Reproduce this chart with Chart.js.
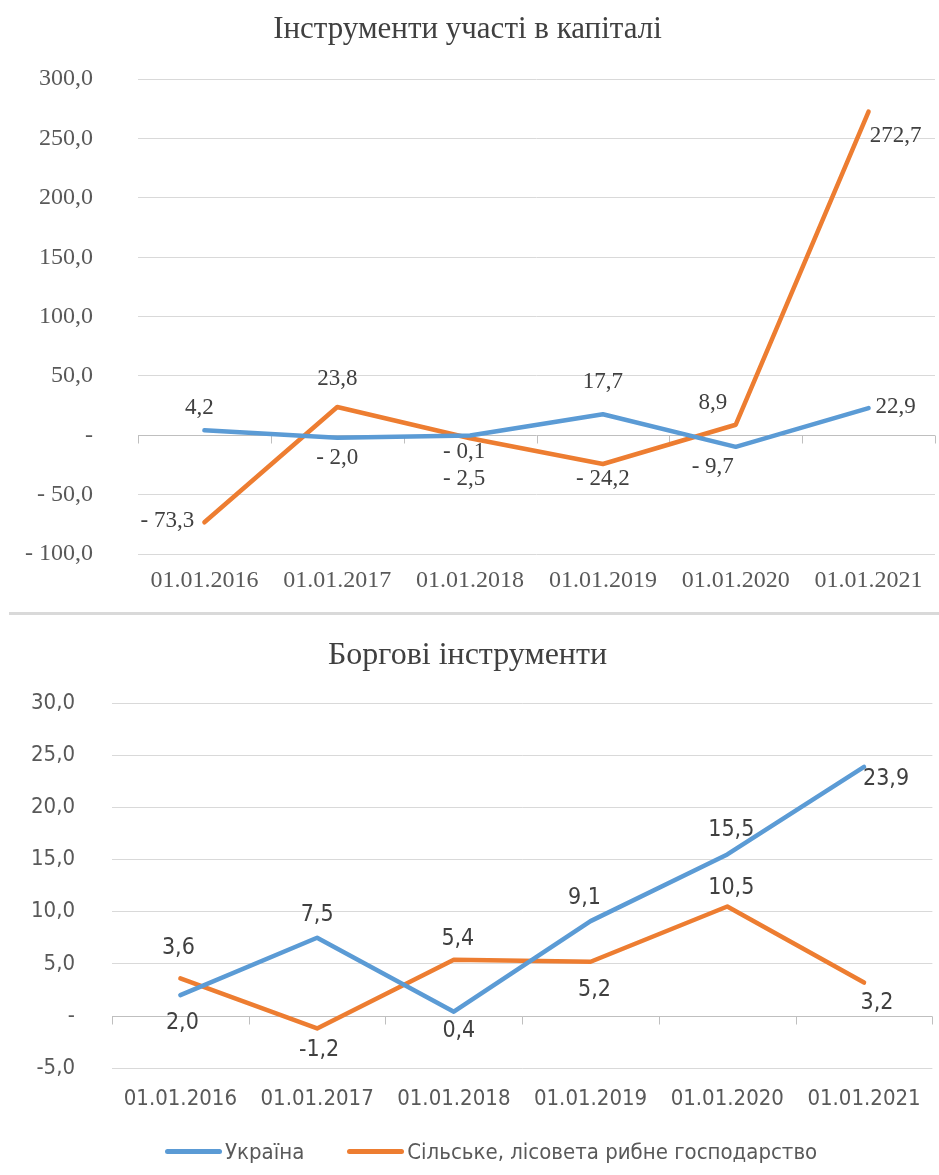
<!DOCTYPE html>
<html><head><meta charset="utf-8">
<script src="https://cdn.jsdelivr.net/npm/chart.js@4.4.0/dist/chart.umd.min.js"></script>
<style>
html,body{margin:0;padding:0;background:#fff;width:939px;height:1175px;overflow:hidden;}
#c1wrap{position:absolute;left:0;top:0;width:939px;height:605px;}
#sep{position:absolute;left:9px;top:612px;width:930px;height:3px;background:#d9d9d9;}
#c2wrap{position:absolute;left:0;top:615px;width:939px;height:560px;}
canvas{display:block;}
#legend{position:absolute;left:165px;top:1136px;height:30px;display:flex;align-items:center;
  font-family:"DejaVu Sans Condensed","DejaVu Sans",sans-serif;font-size:22px;color:#595959;white-space:nowrap;}
#legend .item{display:flex;align-items:center;margin-right:43px;}
#legend .sw{display:inline-block;width:57px;height:5px;border-radius:3px;margin-right:3px;}
</style></head><body>
<div id="c1wrap"><canvas id="c1" width="939" height="605"></canvas></div>
<div id="sep"></div>
<div id="c2wrap"><canvas id="c2" width="939" height="560"></canvas></div>
<div id="legend"></div>
<script>
// ---- data ----
const categories = ['01.01.2016', '01.01.2017', '01.01.2018', '01.01.2019', '01.01.2020', '01.01.2021'];
const seriesNames = ['Україна', 'Сільське, лісовета рибне господарство'];
const equityTitle = 'Інструменти участі в капіталі';
const debtTitle = 'Боргові інструменти';
const equityUkraine = [4.2, -2.0, -0.1, 17.7, -9.7, 22.9];
const equityAgri = [-73.3, 23.8, -2.5, -24.2, 8.9, 272.7];
const debtUkraine = [2.0, 7.5, 0.4, 9.1, 15.5, 23.9];
const debtAgri = [3.6, -1.2, 5.4, 5.2, 10.5, 3.2];
const equityAxis = {min: -100, max: 300, step: 50};
const debtAxis = {min: -5, max: 30, step: 5};

// ---- label placement (style: offsets from the point, px) ----
const equityUkraineLabelOff = [[-5, -22], [0, 20], [-6, 17], [0, -32], [-23, 20], [27, -1]];
const equityAgriLabelOff = [[-37, -1], [0, -28], [-6, 41], [0, 15], [-23, -22], [27, 24]];
const debtUkraineLabelOff = [[2, 28], [0, -23], [5, 19], [-6, -23], [4, -24], [22, 12]];
const debtAgriLabelOff = [[-2, -30], [2, 22], [4, -21], [4, 28], [4, -19], [13, 20]];

const BLUE = '#5b9bd5', ORANGE = '#ed7d31';
const SERIF = '"Liberation Serif", "Times New Roman", serif';
const NARROW = '"DejaVu Sans Condensed", "DejaVu Sans", sans-serif';

function fmt(v, sep) {
  if (v === 0) return '-';
  const s = Math.abs(v).toFixed(1).replace('.', ',');
  return v < 0 ? '-' + sep + s : s;
}

function makePlugins(offsets, font, sep) {
  return [{
    id: 'zeroAxis',
    beforeDatasetsDraw(chart) {
      const {ctx, chartArea} = chart;
      const x = chart.scales.x, y = chart.scales.y;
      const y0 = Math.round(y.getPixelForValue(0)) + 0.5;
      ctx.save();
      ctx.strokeStyle = '#bfbfbf';
      ctx.lineWidth = 1;
      ctx.beginPath();
      ctx.moveTo(chartArea.left, y0);
      ctx.lineTo(chartArea.right, y0);
      const n = categories.length;
      for (let i = 0; i <= n; i++) {
        let px;
        if (i === 0) px = chartArea.left;
        else if (i === n) px = chartArea.right;
        else px = (x.getPixelForValue(i - 1) + x.getPixelForValue(i)) / 2;
        px = Math.round(px) + 0.5;
        ctx.moveTo(px, y0);
        ctx.lineTo(px, y0 + 8);
      }
      ctx.stroke();
      ctx.restore();
    }
  }, {
    id: 'valueLabels',
    afterDatasetsDraw(chart) {
      const {ctx} = chart;
      ctx.save();
      ctx.font = font;
      ctx.fillStyle = '#404040';
      ctx.textAlign = 'center';
      ctx.textBaseline = 'middle';
      chart.data.datasets.forEach((ds, di) => {
        const meta = chart.getDatasetMeta(di);
        meta.data.forEach((pt, i) => {
          const off = offsets[di][i];
          ctx.fillText(fmt(ds.data[i], sep), pt.x + off[0], pt.y + off[1]);
        });
      });
      ctx.restore();
    }
  }];
}

function ticksArr(a) { const r = []; for (let v = a.min; v <= a.max + 1e-9; v += a.step) r.push(v); return r; }

function build(canvasId, cfg) {
  return new Chart(document.getElementById(canvasId), {
    type: 'line',
    data: {
      labels: categories,
      datasets: [
        {label: seriesNames[0], data: cfg.d1, borderColor: BLUE, backgroundColor: BLUE, borderWidth: 4.5, pointRadius: 0, tension: 0, borderCapStyle: 'round', borderJoinStyle: 'round'},
        {label: seriesNames[1], data: cfg.d2, borderColor: ORANGE, backgroundColor: ORANGE, borderWidth: 4.5, pointRadius: 0, tension: 0, borderCapStyle: 'round', borderJoinStyle: 'round'}
      ]
    },
    options: {
      responsive: false,
      animation: false,
      devicePixelRatio: 1,
      layout: {padding: cfg.padding},
      plugins: {
        tooltip: {enabled: false},
        title: {display: true, text: cfg.title, color: '#404040', font: {family: SERIF, size: cfg.titleSize, weight: 'normal'}, padding: cfg.titlePad},
        legend: {display: false}
      },
      scales: {
        x: {
          offset: true,
          grid: {display: false, drawTicks: false},
          border: {display: false},
          ticks: {color: '#595959', font: {family: cfg.tickFamily, size: cfg.tickSize}, padding: cfg.xPad, maxRotation: 0, autoSkip: false},
          afterFit(s) { s.height = cfg.xHeight; }
        },
        y: {
          min: cfg.axis.min, max: cfg.axis.max,
          afterBuildTicks(s) { s.ticks = ticksArr(cfg.axis).map(v => ({value: v})); },
          grid: {color: ctx => ctx.tick && ctx.tick.value === 0 ? 'rgba(0,0,0,0)' : '#d9d9d9', lineWidth: 1, drawTicks: true, tickLength: cfg.yGap, tickColor: 'rgba(0,0,0,0)'},
          border: {display: false},
          ticks: {color: '#595959', font: {family: cfg.tickFamily, size: cfg.tickSize}, padding: 0, callback: v => fmt(v, cfg.sep)},
          afterFit(s) { s.width = cfg.yWidth; }
        }
      }
    },
    plugins: makePlugins(cfg.offsets, cfg.labelFont, cfg.sep)
  });
}

build('c1', {
  d1: equityUkraine, d2: equityAgri, axis: equityAxis, title: equityTitle, titleSize: 31,
  titlePad: {top: 11, bottom: 31}, padding: {left: 0, right: 4, top: 0, bottom: 0},
  tickFamily: SERIF, tickSize: 24, xPad: 12, xHeight: 51, yGap: 45, yWidth: 138, sep: ' ',
  offsets: [equityUkraineLabelOff, equityAgriLabelOff], labelFont: '23px ' + SERIF
});

build('c2', {
  d1: debtUkraine, d2: debtAgri, axis: debtAxis, title: debtTitle, titleSize: 32,
  titlePad: {top: 21, bottom: 29}, padding: {left: 0, right: 4, top: 0, bottom: 0},
  tickFamily: NARROW, tickSize: 22, xPad: 18, xHeight: 107, yGap: 37, yWidth: 112, sep: '',
  offsets: [debtUkraineLabelOff, debtAgriLabelOff], labelFont: '23px ' + NARROW
});

// HTML legend built from the series names
const legendEl = document.getElementById('legend');
[BLUE, ORANGE].forEach((c, i) => {
  const item = document.createElement('div');
  item.className = 'item';
  const sw = document.createElement('span');
  sw.className = 'sw';
  sw.style.background = c;
  const tx = document.createElement('span');
  tx.textContent = seriesNames[i];
  item.appendChild(sw); item.appendChild(tx);
  legendEl.appendChild(item);
});
</script>
</body></html>
